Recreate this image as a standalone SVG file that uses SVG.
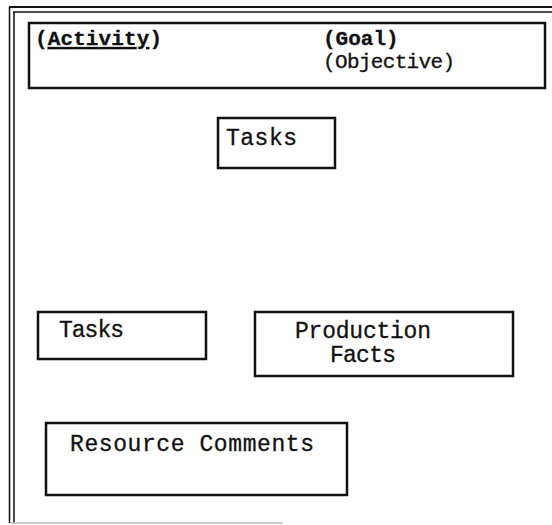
<svg xmlns="http://www.w3.org/2000/svg" width="552" height="525" viewBox="0 0 552 525">
<style>
.frame{fill:none;stroke:#111;}
.box{fill:#fff;stroke:#111;stroke-width:2.5;}
.t{font-family:"Liberation Mono","Courier New",monospace;font-size:23px;fill:#111;stroke:#111;stroke-width:0.3;}
.h{font-size:21px;}
.b{font-weight:bold;}
</style>
<rect width="552" height="525" fill="#fff"/>
<g id="frame">
<line class="frame" x1="9" y1="7" x2="552" y2="7" stroke-width="2"/>
<line class="frame" x1="13" y1="12" x2="552" y2="12" stroke-width="1.5"/>
<line class="frame" x1="9.5" y1="7" x2="9.5" y2="523" stroke-width="1.5"/>
<line class="frame" x1="14" y1="12" x2="14" y2="523" stroke-width="1.5"/>
<line x1="10" y1="523" x2="283" y2="523" stroke="#bbb" stroke-width="1.5"/>
</g>
<g id="header">
<rect class="box" x="29" y="23" width="516" height="65"/>
<text class="t h b" x="35" y="45" textLength="127">(<tspan text-decoration="underline">Activity</tspan>)</text>
<text class="t h b" x="323" y="45">(Goal)</text>
<text class="t h" x="323" y="68" textLength="132">(Objective)</text>
</g>
<g id="tasks-top">
<rect class="box" x="218" y="118" width="117" height="50"/>
<text class="t" x="226" y="145" textLength="71">Tasks</text>
</g>
<g id="tasks-bottom">
<rect class="box" x="38" y="312" width="168" height="47"/>
<text class="t" x="59" y="337" textLength="65">Tasks</text>
</g>
<g id="production-facts">
<rect class="box" x="255" y="312" width="258" height="64"/>
<text class="t" x="295" y="338" textLength="136">Production</text>
<text class="t" x="330" y="362" textLength="66">Facts</text>
</g>
<g id="resource-comments">
<rect class="box" x="46" y="423" width="301" height="72"/>
<text class="t" x="70" y="451" textLength="244">Resource Comments</text>
</g>
<g id="connectors"></g>
</svg>
